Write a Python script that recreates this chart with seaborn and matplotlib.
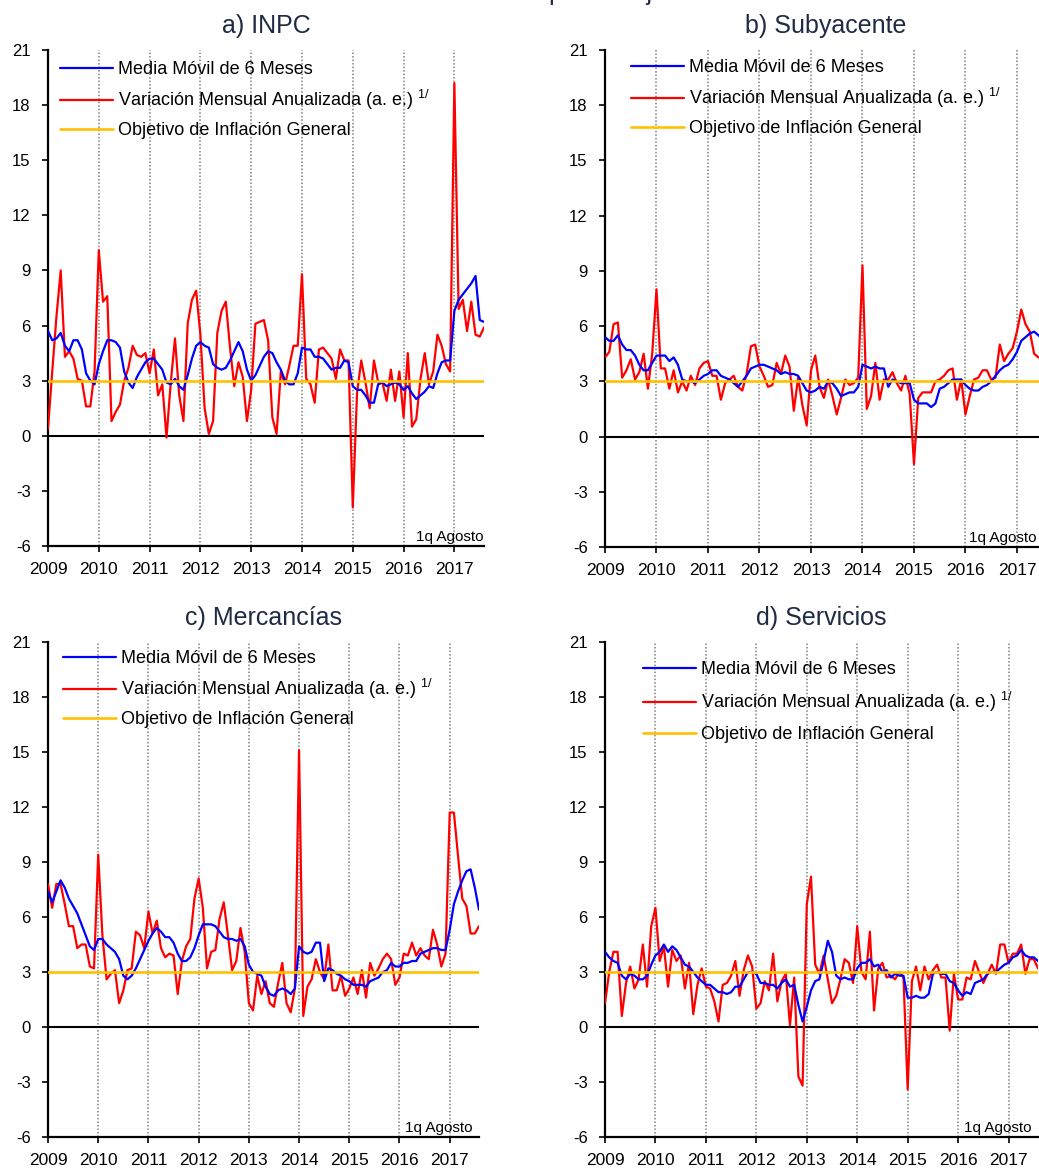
import matplotlib.pyplot as plt
import numpy as np
import seaborn as sns

# monthly data, Jan 2009 .. Aug 2017 (1q Agosto)
x = 2009 + np.arange(104) / 12
years = list(range(2009, 2018))
yticks = list(range(-6, 22, 3))
meta = 3.0

inpc_var = [0.4, 3.5, 6.5, 9.0, 4.3, 4.6, 4.2, 3.1, 3.0, 1.6, 1.6, 3.5,
            10.1, 7.3, 7.6, 0.8, 1.3, 1.7, 3.0, 3.7, 4.9, 4.4, 4.3, 4.5,
            3.4, 4.7, 2.2, 2.8, -0.1, 2.9, 5.3, 2.2, 0.8, 6.1, 7.4, 7.9,
            5.5, 1.5, 0.1, 0.8, 5.6, 6.8, 7.3, 4.8, 2.7, 4.0, 3.2, 0.8,
            2.5, 6.1, 6.2, 6.3, 5.2, 1.0, 0.1, 3.5, 2.8, 3.8, 4.9, 4.9,
            8.8, 3.1, 2.8, 1.8, 4.7, 4.8, 4.5, 4.2, 3.1, 4.7, 4.1, 4.1,
            -3.9, 2.3, 4.1, 2.9, 1.5, 4.1, 2.9, 2.9, 1.9, 3.6, 1.9, 3.5,
            1.0, 4.5, 0.5, 0.9, 3.1, 4.5, 2.8, 3.5, 5.5, 4.9, 3.9, 3.5,
            19.2, 6.9, 7.4, 5.7, 7.3, 5.5, 5.4, 5.9]
inpc_mm = [5.7, 5.2, 5.3, 5.6, 4.9, 4.6, 5.2, 5.2, 4.7, 3.4, 3.0, 2.8,
           3.9, 4.6, 5.2, 5.2, 5.1, 4.8, 3.5, 2.9, 2.6, 3.2, 3.6, 4.0,
           4.2, 4.2, 3.9, 3.6, 2.9, 2.8, 3.1, 2.7, 2.5, 3.3, 4.2, 4.9,
           5.1, 4.9, 4.8, 3.9, 3.7, 3.6, 3.7, 4.1, 4.6, 5.1, 4.6, 3.6,
           3.0, 3.3, 3.8, 4.3, 4.6, 4.5, 4.0, 3.6, 3.0, 2.8, 2.8, 3.4,
           4.8, 4.7, 4.7, 4.3, 4.3, 4.2, 3.9, 3.6, 3.7, 3.7, 4.1, 4.0,
           2.7, 2.5, 2.5, 2.2, 1.8, 1.8, 2.8, 2.9, 2.7, 2.8, 2.9, 2.8,
           2.5, 2.7, 2.3, 2.0, 2.2, 2.4, 2.7, 2.6, 3.4, 4.0, 4.1, 4.1,
           6.8, 7.4, 7.7, 8.0, 8.3, 8.7, 6.3, 6.2]

sub_var = [4.3, 4.6, 6.1, 6.2, 3.2, 3.6, 4.2, 3.1, 3.5, 4.5, 2.6, 4.5,
           8.0, 3.7, 3.7, 2.6, 3.6, 2.4, 3.0, 2.5, 3.3, 2.8, 3.7, 4.0,
           4.1, 3.3, 3.3, 2.0, 2.9, 3.1, 3.3, 2.7, 2.5, 3.4, 4.9, 5.0,
           3.8, 3.3, 2.7, 2.8, 4.0, 3.4, 4.4, 3.8, 1.4, 3.2, 1.7, 0.6,
           3.6, 4.4, 2.7, 2.1, 3.1, 2.2, 1.2, 2.1, 3.1, 2.8, 2.9, 3.2,
           9.3, 1.5, 2.2, 4.0, 2.0, 3.1, 3.1, 3.5, 2.9, 2.5, 3.3, 2.3,
           -1.5, 2.1, 2.4, 2.4, 2.4, 3.0, 3.1, 3.3, 3.6, 3.7, 2.0, 3.1,
           1.2, 2.2, 3.1, 3.2, 3.6, 3.6, 3.1, 3.2, 5.0, 4.1, 4.5, 4.8,
           5.7, 6.9, 6.1, 5.7, 4.5, 4.3, 4.3, 4.4]
sub_mm = [5.4, 5.2, 5.2, 5.5, 5.0, 4.7, 4.7, 4.4, 3.9, 3.6, 3.6, 4.0,
          4.4, 4.4, 4.4, 4.1, 4.3, 3.9, 3.1, 3.0, 3.0, 2.9, 3.1, 3.3,
          3.4, 3.6, 3.6, 3.3, 3.2, 3.1, 2.9, 2.7, 3.0, 3.3, 3.7, 3.8,
          3.9, 3.9, 3.8, 3.7, 3.6, 3.4, 3.5, 3.4, 3.4, 3.3, 2.9, 2.5,
          2.4, 2.5, 2.7, 2.6, 3.0, 2.9, 2.6, 2.2, 2.3, 2.4, 2.4, 2.7,
          3.9, 3.8, 3.7, 3.8, 3.7, 3.7, 2.7, 3.1, 3.0, 2.9, 2.9, 2.9,
          2.0, 1.8, 1.8, 1.8, 1.6, 1.8, 2.6, 2.7, 2.9, 3.1, 3.1, 3.1,
          2.8, 2.6, 2.5, 2.5, 2.7, 2.8, 3.0, 3.3, 3.6, 3.8, 3.9, 4.2,
          4.6, 5.2, 5.4, 5.6, 5.7, 5.5, 5.3, 5.1]

merc_var = [7.8, 6.5, 7.8, 7.8, 6.7, 5.5, 5.5, 4.3, 4.5, 4.5, 3.3, 3.2,
            9.4, 5.0, 2.6, 2.9, 3.1, 1.3, 2.0, 3.1, 3.2, 5.2, 5.0, 4.3,
            6.3, 5.1, 5.8, 4.3, 3.8, 4.0, 3.9, 1.8, 3.6, 4.4, 4.8, 7.0,
            8.1, 6.5, 3.2, 4.1, 4.2, 5.9, 6.8, 5.0, 3.1, 3.6, 5.4, 4.1,
            1.3, 0.9, 2.8, 1.8, 2.5, 1.3, 1.1, 2.4, 3.5, 1.3, 0.8, 2.1,
            15.1, 0.6, 2.2, 2.6, 3.7, 3.0, 2.6, 4.5, 2.0, 2.0, 2.8, 1.7,
            2.1, 2.7, 1.8, 3.1, 1.6, 3.5, 2.8, 3.2, 3.7, 4.0, 3.7, 2.3,
            2.7, 4.0, 3.9, 4.6, 3.9, 4.3, 3.9, 3.7, 5.3, 4.5, 3.3, 4.0,
            11.7, 11.7, 9.3, 7.0, 6.6, 5.1, 5.1, 5.5]
merc_mm = [7.4, 6.8, 7.4, 8.0, 7.6, 7.0, 6.6, 6.2, 5.6, 5.0, 4.4, 4.2,
           4.8, 4.8, 4.5, 4.3, 4.1, 3.7, 2.8, 2.6, 2.8, 3.2, 3.7, 4.2,
           4.7, 5.1, 5.4, 5.2, 4.9, 4.9, 4.6, 4.0, 3.6, 3.6, 3.8, 4.3,
           5.0, 5.6, 5.6, 5.6, 5.5, 5.2, 4.9, 4.8, 4.8, 4.7, 4.8, 4.4,
           3.4, 3.0, 2.9, 2.8, 2.2, 1.8, 1.7, 2.0, 2.1, 2.0, 1.8, 2.1,
           4.4, 4.1, 4.0, 4.1, 4.6, 4.6, 2.5, 3.2, 3.1, 2.9, 2.8, 2.6,
           2.5, 2.3, 2.3, 2.3, 2.2, 2.5, 2.6, 2.7, 3.0, 3.1, 3.5, 3.3,
           3.3, 3.5, 3.5, 3.6, 3.6, 4.0, 4.1, 4.2, 4.3, 4.3, 4.2, 4.2,
           5.3, 6.7, 7.4, 8.0, 8.5, 8.6, 7.6, 6.4]

serv_var = [1.3, 3.0, 4.1, 4.1, 0.6, 2.4, 3.3, 2.1, 2.6, 4.5, 2.2, 5.5,
            6.5, 3.6, 4.4, 2.2, 4.2, 3.6, 3.9, 2.1, 3.5, 0.7, 2.3, 3.2,
            2.2, 2.1, 1.4, 0.3, 2.3, 2.4, 2.8, 3.6, 1.7, 3.1, 3.9, 3.3,
            1.0, 1.3, 2.5, 2.0, 4.0, 1.4, 2.5, 2.9, 0.1, 2.7, -2.7, -3.2,
            6.7, 8.2, 3.4, 2.9, 3.9, 2.6, 1.3, 1.7, 2.6, 3.7, 3.5, 2.4,
            5.5, 3.0, 2.6, 5.2, 0.9, 3.2, 3.5, 2.7, 2.8, 2.6, 3.0, 2.7,
            -3.4, 2.5, 3.3, 2.0, 3.3, 2.6, 3.1, 3.4, 2.7, 2.7, -0.2, 2.9,
            1.5, 1.5, 2.7, 2.6, 3.6, 3.0, 2.4, 2.9, 3.4, 2.9, 4.5, 4.5,
            3.5, 4.0, 4.0, 4.5, 2.9, 3.7, 3.7, 3.2]
serv_mm = [4.1, 3.8, 3.6, 3.5, 2.8, 2.6, 2.9, 2.8, 2.6, 2.6, 2.8, 3.4,
           3.9, 4.1, 4.5, 4.1, 4.4, 4.2, 3.8, 3.4, 3.3, 3.0, 2.7, 2.5,
           2.3, 2.3, 2.1, 1.9, 1.9, 1.8, 1.9, 2.2, 2.2, 2.6, 3.0, 3.0,
           2.9, 2.4, 2.4, 2.3, 2.3, 2.1, 2.4, 2.6, 2.2, 2.3, 1.2, 0.3,
           1.1, 2.0, 2.5, 2.6, 3.6, 4.7, 4.1, 2.8, 2.6, 2.7, 2.6, 2.6,
           3.2, 3.5, 3.5, 3.7, 3.3, 3.4, 3.0, 3.1, 2.7, 2.9, 2.8, 2.8,
           1.6, 1.6, 1.7, 1.6, 1.6, 1.8, 2.9, 3.0, 2.9, 2.9, 2.5, 2.4,
           2.0, 1.7, 1.9, 1.8, 2.4, 2.5, 2.6, 2.9, 3.0, 3.0, 3.2, 3.4,
           3.5, 3.8, 3.9, 4.2, 3.9, 3.8, 3.8, 3.6]

sns.set_style('ticks')
plt.rcParams['font.family'] = ['Liberation Sans', 'DejaVu Sans']
plt.rcParams['axes.unicode_minus'] = False
plt.rcParams['text.color'] = 'black'
navy = '#1f2a44'

W, H = 1039, 1169
fig = plt.figure(figsize=(W / 100, H / 100), dpi=100)

# title, rect in px (left, top, right, bottom), legend anchor, label spacing, note x
panels = [
    ('a) INPC', inpc_mm, inpc_var, (48, 50, 484, 546), (0.0275, 0.977), 0.55, 0.998),
    ('b) Subyacente', sub_mm, sub_var, (605, 50, 1047, 547), (0.059, 0.982), 0.55, 0.977),
    ('c) Mercancías', merc_mm, merc_var, (48, 642, 479, 1137), (0.035, 0.984), 0.55, 0.985),
    ('d) Servicios', serv_mm, serv_var, (605, 642, 1038, 1137), (0.088, 0.961), 0.66, 0.986),
]

for title, mm, var, (l, t, r, b), anchor, lspace, note_x in panels:
    ax = fig.add_axes([l / W, 1 - b / H, (r - l) / W, (b - t) / H])
    for yr in years[1:]:
        ax.axvline(yr, color='#7f7f7f', ls=(0, (1, 1.3)), lw=1.1, zorder=0)
    ax.axhline(0, color='black', lw=1.5, zorder=1)
    sns.lineplot(x=x, y=var, ax=ax, color='#ff0000', lw=1.6, zorder=3,
                 label='Variación Mensual Anualizada (a. e.) $^{\\mathregular{1/}}$')
    sns.lineplot(x=x, y=mm, ax=ax, color='#0000ff', lw=1.6, zorder=4,
                 label='Media Móvil de 6 Meses')
    ax.axhline(meta, color='#ffc000', lw=1.9, zorder=5,
               label='Objetivo de Inflación General')

    h, lab = ax.get_legend_handles_labels()
    order = [1, 0, 2]
    ax.legend([h[i] for i in order], [lab[i] for i in order], loc='upper left',
              bbox_to_anchor=anchor, frameon=False, fontsize=13,
              handlelength=2.95, handletextpad=0.28, labelspacing=lspace,
              borderpad=0, borderaxespad=0, labelcolor='black')

    ax.set_xlim(x[0], x[-1])
    ax.set_ylim(-6, 21)
    ax.set_xticks(years)
    ax.set_xticklabels([str(y) for y in years])
    ax.set_yticks(yticks)
    ax.tick_params(axis='both', direction='out', length=4.5, width=1.2,
                   color='black', labelcolor='black')
    ax.tick_params(axis='y', pad=8, labelsize=12)
    ax.tick_params(axis='x', pad=7, labelsize=12.5)
    for side in ['top', 'right']:
        ax.spines[side].set_visible(False)
    for side in ['left', 'bottom']:
        ax.spines[side].set_color('black')
        ax.spines[side].set_linewidth(1.6)
    ax.set_xlabel('')
    ax.set_ylabel('')
    ax.set_title(title, fontsize=18, color=navy, pad=12)
    ax.text(note_x, 0.004, '1q Agosto', transform=ax.transAxes,
            ha='right', va='bottom', fontsize=11, color='black')

# the reference shows only the lower edge of this heading
fig.text(554 / W, 1.0, 'Cifras en porcentaje', ha='center', va='baseline',
         fontsize=18, color=navy)

fig.savefig('out.png', dpi=100)
